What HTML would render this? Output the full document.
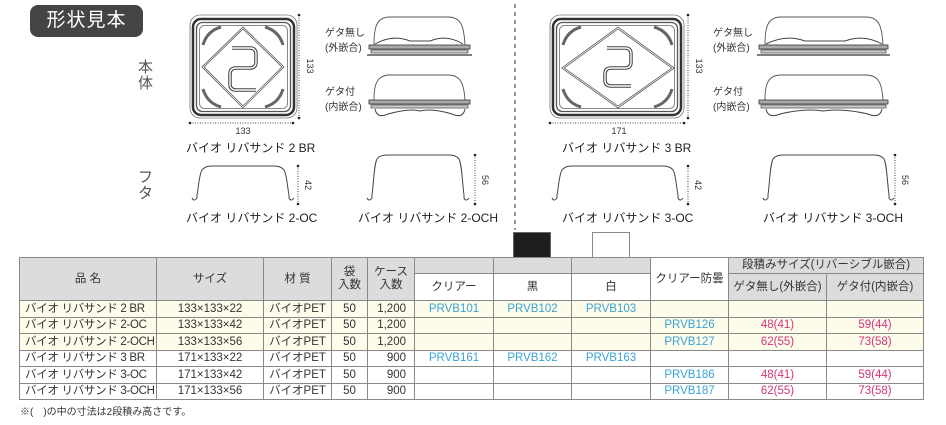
<!DOCTYPE html>
<html><head><meta charset="utf-8">
<style>
*{margin:0;padding:0;box-sizing:border-box}
body{width:946px;height:425px;background:#fff;position:relative;overflow:hidden;font-family:"Liberation Sans","Noto Sans CJK JP",sans-serif;color:#333}
.abs{position:absolute}
.badge{left:30px;top:5px;width:113px;height:32px;background:#444;border-radius:8px;color:#fff;font-size:19px;line-height:32px;text-align:center;letter-spacing:1px}
.lbl{font-size:12px;color:#222;white-space:nowrap}
.sm{font-size:10px;color:#333;line-height:15px;white-space:nowrap}
.vt{font-size:15px;color:#555;line-height:16px;width:16px}
table{position:absolute;left:19px;top:257px;width:904px;border-collapse:collapse;font-size:11.5px;table-layout:fixed}
td{border:1px solid #888;text-align:center;height:16.5px;line-height:14px;padding:0;white-space:nowrap;overflow:hidden}
th{border:1px solid #888;background:#dcdcdc;font-weight:normal;font-size:11.5px;color:#333;line-height:13px;padding:0;white-space:nowrap;overflow:hidden}
td.l{text-align:left;padding-left:5px;letter-spacing:-0.3px}
td.r{text-align:right;padding-right:8px}
tr.y td{background:#fdfbe9}
.b{color:#3aa3d6}.p{color:#d4347c}
</style></head><body>
<div class="abs badge">形状見本</div>
<div class="abs vt" style="left:138px;top:60px">本<br>体</div>
<div class="abs vt" style="left:138px;top:170px">フ<br>タ</div>

<svg class="abs" style="left:0;top:0" width="946" height="235" viewBox="0 0 946 235">
<line x1="515" y1="4" x2="515" y2="230" stroke="#777" stroke-width="1.5" stroke-dasharray="4,4"/>
<g fill="none">
<rect x="190" y="15" width="107" height="103" rx="10" stroke="#777" stroke-width="0.8"/>
<rect x="193" y="19" width="101" height="96" rx="8" stroke="#333" stroke-width="2.5"/>
<rect x="196.5" y="22.5" width="94" height="89" rx="6" stroke="#555" stroke-width="1.3"/>
<rect x="199.5" y="25.5" width="88" height="83" rx="5" stroke="#888" stroke-width="1"/>
<polygon points="243,28 283,67 243,107 203,67" stroke="#444" stroke-width="2.2"/>
<polygon points="243,28 283,67 243,107 203,67" stroke="#fff" stroke-width="0.8"/>
<path d="M232 48 L250 48 Q256 48 256 54 L256 62 Q256 68 250 68 L236 68 Q230 68 230 74 L230 84 Q230 90 236 90 L256 90" stroke="#444" stroke-width="3.5"/>
<path d="M232 48 L250 48 Q256 48 256 54 L256 62 Q256 68 250 68 L236 68 Q230 68 230 74 L230 84 Q230 90 236 90 L256 90" stroke="#fff" stroke-width="1.4"/>
<path d="M203 45 q4 -14 18 -18 M283 45 q-4 -14 -18 -18 M203 89 q4 14 18 18 M283 89 q-4 14 -18 18" stroke="#666" stroke-width="3"/>
<line x1="190" y1="123" x2="293" y2="123" stroke="#444" stroke-dasharray="1,1.5"/>
<line x1="299" y1="15" x2="299" y2="118" stroke="#444" stroke-dasharray="1,1.5"/>
<rect x="550" y="15" width="134" height="103" rx="10" stroke="#777" stroke-width="0.8"/>
<rect x="553" y="19" width="128" height="96" rx="8" stroke="#333" stroke-width="2.5"/>
<rect x="556.5" y="22.5" width="121" height="89" rx="6" stroke="#555" stroke-width="1.3"/>
<rect x="559.5" y="25.5" width="115" height="83" rx="5" stroke="#888" stroke-width="1"/>
<polygon points="618,28 673,68 618,107 563,68" stroke="#444" stroke-width="2.2"/>
<polygon points="618,28 673,68 618,107 563,68" stroke="#fff" stroke-width="0.8"/>
<path d="M607 48 L625 48 Q631 48 631 54 L631 62 Q631 68 625 68 L611 68 Q605 68 605 74 L605 80 Q605 86 611 86 L631 86" stroke="#444" stroke-width="3.5"/>
<path d="M607 48 L625 48 Q631 48 631 54 L631 62 Q631 68 625 68 L611 68 Q605 68 605 74 L605 80 Q605 86 611 86 L631 86" stroke="#fff" stroke-width="1.4"/>
<path d="M563 45 q4 -14 18 -18 M672 45 q-4 -14 -18 -18 M563 89 q4 14 18 18 M672 89 q-4 14 -18 18" stroke="#666" stroke-width="3"/>
<line x1="550" y1="123" x2="684" y2="123" stroke="#444" stroke-dasharray="1,1.5"/>
<line x1="688" y1="15" x2="688" y2="118" stroke="#444" stroke-dasharray="1,1.5"/>

<path d="M374 45 C374 28 376 17 390 17 L448 17 C462 17 464 28 465 45" stroke="#555" stroke-width="0.9"/>
<path d="M375 44 Q393 34 410 41 L430 41 Q447 34 463 44" stroke="#444"/>
<rect x="369" y="45" width="101" height="4" fill="#aaa" stroke="#333" stroke-width="0.8"/>
<rect x="371" y="50" width="97" height="3" fill="#ccc" stroke="#444" stroke-width="0.7"/>
<line x1="367" y1="55" x2="472" y2="55" stroke="#333" stroke-width="1.2"/>
<path d="M374 100 C374 86 376 75 390 75 L448 75 C462 75 464 86 465 100" stroke="#555" stroke-width="0.9"/>
<rect x="369" y="100" width="101" height="4" fill="#aaa" stroke="#333" stroke-width="0.8"/>
<rect x="371" y="105" width="97" height="3" fill="#ccc" stroke="#444" stroke-width="0.7"/>
<path d="M375 109 Q377 119 388 114 Q410 108 420 111 Q432 108 452 114 Q463 119 465 109" stroke="#444"/>
<path d="M765 45 C765 28 767 17 781 17 L866 17 C880 17 882 28 883 45" stroke="#555" stroke-width="0.9"/>
<path d="M766 44 Q786 34 805 41 L845 41 Q864 34 882 44" stroke="#444"/>
<rect x="759" y="45" width="129" height="4" fill="#aaa" stroke="#333" stroke-width="0.8"/>
<rect x="761" y="50" width="125" height="3" fill="#ccc" stroke="#444" stroke-width="0.7"/>
<line x1="757" y1="55" x2="890" y2="55" stroke="#333" stroke-width="1.2"/>
<path d="M765 100 C765 86 767 75 781 75 L866 75 C880 75 882 86 883 100" stroke="#555" stroke-width="0.9"/>
<rect x="759" y="100" width="129" height="4" fill="#aaa" stroke="#333" stroke-width="0.8"/>
<rect x="761" y="105" width="125" height="3" fill="#ccc" stroke="#444" stroke-width="0.7"/>
<path d="M766 109 Q768 119 780 114 Q805 108 823 111 Q842 108 868 114 Q880 119 882 109" stroke="#444"/>

<g stroke="#444" stroke-width="1">
<path d="M192 198 q2 4 5 0 L197 195 C199 185 199 175 202 170 Q205 166 212 166 L274 166 Q281 166 284 170 C287 175 287 185 289 195 L289 198 q2 4 5 0"/>
<path d="M367 198 q2 4 5 0 L372 195 C374 180 374 165 377 159 Q380 155 387 155 L449 155 Q456 155 459 159 C462 165 462 180 464 195 L464 198 q2 4 5 0"/>
<path d="M552 198 q2 4 5 0 L557 195 C559 185 559 175 562 170 Q565 166 572 166 L663 166 Q670 166 673 170 C676 175 676 185 678 195 L678 198 q2 4 5 0"/>
<path d="M763 198 q2 4 5 0 L768 195 C770 180 770 165 773 159 Q776 155 783 155 L874 155 Q881 155 884 159 C887 165 887 180 889 195 L889 198 q2 4 5 0"/>
</g>
<g stroke="#444" stroke-dasharray="1,1.5">
<line x1="298" y1="166" x2="298" y2="204"/>
<line x1="475" y1="155" x2="475" y2="204"/>
<line x1="688" y1="166" x2="688" y2="204"/>
<line x1="895" y1="155" x2="895" y2="204"/>
</g>
</g>
<g fill="#222">
<circle cx="190" cy="123" r="1.3"/><circle cx="293" cy="123" r="1.3"/><circle cx="299" cy="15" r="1.3"/><circle cx="299" cy="118" r="1.3"/>
<circle cx="550" cy="123" r="1.3"/><circle cx="684" cy="123" r="1.3"/><circle cx="688" cy="15" r="1.3"/><circle cx="688" cy="118" r="1.3"/>
<circle cx="298" cy="166" r="1.3"/><circle cx="298" cy="204" r="1.3"/><circle cx="475" cy="155" r="1.3"/><circle cx="475" cy="204" r="1.3"/>
<circle cx="688" cy="166" r="1.3"/><circle cx="688" cy="204" r="1.3"/><circle cx="895" cy="155" r="1.3"/><circle cx="895" cy="204" r="1.3"/>
</g>
<g font-family="Liberation Sans, sans-serif" font-size="9" fill="#333" text-anchor="middle">
<text x="243" y="134">133</text>
<text x="619" y="134">171</text>
<text transform="translate(307,66) rotate(90)">133</text>
<text transform="translate(696,66) rotate(90)">133</text>
<text transform="translate(305,185) rotate(90)">42</text>
<text transform="translate(482,180) rotate(90)">56</text>
<text transform="translate(695,185) rotate(90)">42</text>
<text transform="translate(902,180) rotate(90)">56</text>
</g>
</svg>

<div class="abs sm" style="left:325px;top:26px">ゲタ無し<br>(外嵌合)</div>
<div class="abs sm" style="left:325px;top:85px">ゲタ付<br>(内嵌合)</div>
<div class="abs sm" style="left:713px;top:26px">ゲタ無し<br>(外嵌合)</div>
<div class="abs sm" style="left:713px;top:85px">ゲタ付<br>(内嵌合)</div>

<div class="abs lbl" style="left:186px;top:139px">バイオ リバサンド 2 BR</div>
<div class="abs lbl" style="left:562px;top:139px">バイオ リバサンド 3 BR</div>
<div class="abs lbl" style="left:186px;top:209px">バイオ リバサンド 2-OC</div>
<div class="abs lbl" style="left:358px;top:209px">バイオ リバサンド 2-OCH</div>
<div class="abs lbl" style="left:562px;top:209px">バイオ リバサンド 3-OC</div>
<div class="abs lbl" style="left:763px;top:209px">バイオ リバサンド 3-OCH</div>

<div class="abs" style="left:513px;top:232px;width:38px;height:37px;background:#1e1e1e;border:1px solid #666"></div>
<div class="abs" style="left:592px;top:232px;width:38px;height:37px;background:#fff;border:1px solid #888"></div>

<table>
<colgroup><col style="width:137px"><col style="width:107px"><col style="width:68px"><col style="width:36px"><col style="width:47px"><col style="width:79px"><col style="width:78px"><col style="width:79px"><col style="width:78px"><col style="width:98px"><col style="width:97px"></colgroup>
<tr style="height:16px"><th rowspan="2">品 名</th><th rowspan="2">サイズ</th><th rowspan="2">材 質</th><th rowspan="2">袋<br>入数</th><th rowspan="2">ケース<br>入数</th><th></th><th></th><th></th><th rowspan="2" style="background:#fff">クリアー防曇</th><th colspan="2">段積みサイズ(リバーシブル嵌合)</th></tr>
<tr style="height:27px"><th style="background:#fff">クリアー</th><th style="background:#fff">黒</th><th style="background:#fff">白</th><th>ゲタ無し(外嵌合)</th><th>ゲタ付(内嵌合)</th></tr>
<tr class="y"><td class="l">バイオ リバサンド 2 BR</td><td>133×133×22</td><td>バイオPET</td><td>50</td><td class="r">1,200</td><td class="b">PRVB101</td><td class="b">PRVB102</td><td class="b">PRVB103</td><td></td><td></td><td></td></tr>
<tr class="y"><td class="l">バイオ リバサンド 2-OC</td><td>133×133×42</td><td>バイオPET</td><td>50</td><td class="r">1,200</td><td></td><td></td><td></td><td class="b">PRVB126</td><td class="p">48(41)</td><td class="p">59(44)</td></tr>
<tr class="y"><td class="l">バイオ リバサンド 2-OCH</td><td>133×133×56</td><td>バイオPET</td><td>50</td><td class="r">1,200</td><td></td><td></td><td></td><td class="b">PRVB127</td><td class="p">62(55)</td><td class="p">73(58)</td></tr>
<tr><td class="l">バイオ リバサンド 3 BR</td><td>171×133×22</td><td>バイオPET</td><td>50</td><td class="r">900</td><td class="b">PRVB161</td><td class="b">PRVB162</td><td class="b">PRVB163</td><td></td><td></td><td></td></tr>
<tr><td class="l">バイオ リバサンド 3-OC</td><td>171×133×42</td><td>バイオPET</td><td>50</td><td class="r">900</td><td></td><td></td><td></td><td class="b">PRVB186</td><td class="p">48(41)</td><td class="p">59(44)</td></tr>
<tr><td class="l">バイオ リバサンド 3-OCH</td><td>171×133×56</td><td>バイオPET</td><td>50</td><td class="r">900</td><td></td><td></td><td></td><td class="b">PRVB187</td><td class="p">62(55)</td><td class="p">73(58)</td></tr>
</table>
<div class="abs" style="left:20px;top:403px;font-size:10px;color:#333">※(　)の中の寸法は2段積み高さです。</div>
</body></html>
